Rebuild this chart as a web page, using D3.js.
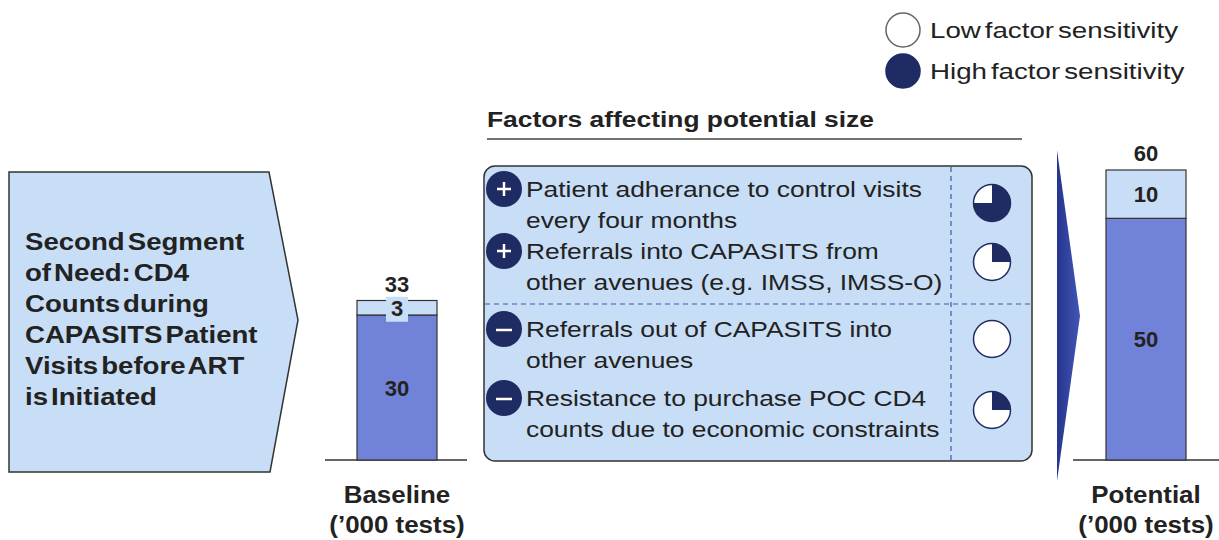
<!DOCTYPE html>
<meta charset="utf-8">
<style>
  body { margin: 0; background: #fff; }
  text { font-family: "Liberation Sans", Arial, sans-serif; fill: #222; }
  .bold { font-weight: bold; }
  .dash { stroke: #3d5aa8; stroke-width: 1.2; stroke-dasharray: 5,4; fill: none; }
</style>
<svg width="1219" height="540"></svg>
<script src="https://d3js.org/d3.v7.min.js"></script>
<script>

  // data
  var categories = ["Baseline", "Potential"];
  var baseValues = [30, 50];
  var addValues = [3, 10];
  var totals = [33, 60];
  var catLabels = [["Baseline", "(’000 tests)"], ["Potential", "(’000 tests)"]];

  var segmentLines = ["Second Segment", "of Need: CD4", "Counts during", "CAPASITS Patient", "Visits before ART", "is Initiated"];

  var factorSigns = ["+", "+", "-", "-"];
  var factorText = [
    ["Patient adherance to control visits", "every four months"],
    ["Referrals into CAPASITS from", "other avenues (e.g. IMSS, IMSS-O)"],
    ["Referrals out of CAPASITS into", "other avenues"],
    ["Resistance to purchase POC CD4", "counts due to economic constraints"]
  ];
  var sensitivity = [0.75, 0.25, 0, 0.25];
  var legendLabels = ["Low factor sensitivity", "High factor sensitivity"];
  var legendFill = [0, 1];

  var lightBlue = "#c8ddf6",
    barBlue = "#7183d8",
    navy = "#1f2b63";

  var svg = d3.select("svg");

  // the source picture is stretched sideways, so text gets a horizontal scale
  function stretch(sel, x0, s) {
    sel.attr("transform", "translate(" + x0 + ",0) scale(" + s + ",1) translate(" + (-x0) + ",0)");
    return sel;
  }

  // scales
  var y = d3.scaleLinear().domain([0, 60]).range([460, 170]);
  var x = d3.scaleOrdinal().domain(categories).range([397, 1146]);
  var barW = 80;

  // left pentagon
  svg.append("path")
    .attr("d", "M9,172 L269,172 L298,320 L270,472 L9,472 Z")
    .attr("fill", lightBlue)
    .attr("stroke", "#333")
    .attr("stroke-width", 1.5);

  var seg = svg.append("g");
  stretch(seg, 25, 1.15);
  seg.selectAll("text")
    .data(segmentLines)
    .enter().append("text")
    .attr("class", "bold")
    .attr("x", 25)
    .attr("y", function (d, i) { return 250 + i * 31; })
    .style("font-size", "24px")
    .style("word-spacing", "-4px")
    .text(function (d) { return d; });

  // baseline axes
  var axisSpans = [[325, 467], [1073, 1219]];
  svg.selectAll(".base")
    .data(axisSpans)
    .enter().append("line")
    .attr("x1", function (d) { return d[0]; })
    .attr("x2", function (d) { return d[1]; })
    .attr("y1", y(0)).attr("y2", y(0))
    .attr("stroke", "#333").attr("stroke-width", 1.5);

  // stacked bars
  var bars = svg.selectAll(".bar")
    .data(categories)
    .enter().append("g")
    .attr("class", "bar");

  bars.append("rect")
    .attr("x", function (d) { return x(d) - barW / 2; })
    .attr("width", barW)
    .attr("y", function (d, i) { return y(baseValues[i]); })
    .attr("height", function (d, i) { return y(0) - y(baseValues[i]); })
    .attr("fill", barBlue)
    .attr("stroke", "#333").attr("stroke-width", 1.2);

  bars.append("rect")
    .attr("x", function (d) { return x(d) - barW / 2; })
    .attr("width", barW)
    .attr("y", function (d, i) { return y(totals[i]); })
    .attr("height", function (d, i) { return y(baseValues[i]) - y(totals[i]); })
    .attr("fill", lightBlue)
    .attr("stroke", "#333").attr("stroke-width", 1.2);

  // base value labels
  bars.append("text")
    .attr("class", "bold")
    .attr("x", function (d) { return x(d); })
    .attr("y", function (d, i) { return (y(0) + y(baseValues[i])) / 2 + 8; })
    .attr("text-anchor", "middle")
    .style("font-size", "22px")
    .text(function (d, i) { return baseValues[i]; });

  // increment labels (with a small box behind)
  bars.each(function (d, i) {
    var g = d3.select(this);
    var cy = (y(baseValues[i]) + y(totals[i])) / 2;
    if (addValues[i] < 5) {
      g.append("rect")
        .attr("x", x(d) - 11).attr("y", cy - 11)
        .attr("width", 22).attr("height", 25)
        .attr("fill", lightBlue);
    }
    g.append("text")
      .attr("class", "bold")
      .attr("x", x(d))
      .attr("y", cy + 8)
      .attr("text-anchor", "middle")
      .style("font-size", "22px")
      .text(addValues[i]);
  });

  // totals
  bars.append("text")
    .attr("class", "bold")
    .attr("x", function (d) { return x(d); })
    .attr("y", function (d, i) { return y(totals[i]) - 9; })
    .attr("text-anchor", "middle")
    .style("font-size", "22px")
    .text(function (d, i) { return totals[i]; });

  // category labels
  bars.append("text")
    .attr("class", "bold")
    .attr("text-anchor", "middle")
    .style("font-size", "24px")
    .each(function (d) { stretch(d3.select(this), x(d), 1.08); })
    .selectAll("tspan")
    .data(function (d, i) { return catLabels[i].map(function (t) { return { t: t, c: d }; }); })
    .enter().append("tspan")
    .attr("x", function (d) { return x(d.c); })
    .attr("y", function (d, j) { return 503 + j * 30; })
    .text(function (d) { return d.t; });

  // factors title
  stretch(svg.append("text"), 487, 1.2)
    .attr("class", "bold")
    .attr("x", 487).attr("y", 127)
    .style("font-size", "22px")
    .text("Factors affecting potential size");
  svg.append("line")
    .attr("x1", 487).attr("x2", 1022)
    .attr("y1", 139).attr("y2", 139)
    .attr("stroke", "#444").attr("stroke-width", 1.3);

  // factors box
  svg.append("rect")
    .attr("x", 484).attr("y", 166)
    .attr("width", 548).attr("height", 295)
    .attr("rx", 11)
    .attr("fill", lightBlue)
    .attr("stroke", "#333").attr("stroke-width", 1.5);
  svg.append("line").attr("class", "dash")
    .attr("x1", 951).attr("x2", 951).attr("y1", 167).attr("y2", 460);
  svg.append("line").attr("class", "dash")
    .attr("x1", 485).attr("x2", 1031).attr("y1", 304).attr("y2", 304);

  var firstLine = [197, 259, 337, 406];
  var ballY = [203, 262, 339, 410];
  var lineGap = 31;

  var factors = svg.selectAll(".factor")
    .data(factorText)
    .enter().append("g")
    .attr("class", "factor");

  factors.append("circle")
    .attr("cx", 504)
    .attr("cy", function (d, i) { return firstLine[i] - 8; })
    .attr("r", 18)
    .attr("fill", navy);

  factors.append("path")
    .attr("d", function (d, i) {
      var cx = 504, cy = firstLine[i] - 8;
      if (factorSigns[i] === "+") {
        return "M" + (cx - 7) + "," + cy + "H" + (cx + 7) + "M" + cx + "," + (cy - 7) + "V" + (cy + 7);
      }
      return "M" + (cx - 8) + "," + (cy + 1) + "H" + (cx + 8);
    })
    .attr("stroke", "#fff").attr("stroke-width", 2.5);

  factors.append("text")
    .style("font-size", "22px")
    .each(function () { stretch(d3.select(this), 526, 1.2); })
    .selectAll("tspan")
    .data(function (d, i) { return d.map(function (t) { return { t: t, i: i }; }); })
    .enter().append("tspan")
    .attr("x", 526)
    .attr("y", function (d, j) { return firstLine[d.i] + j * lineGap; })
    .text(function (d) { return d.t; });

  // harvey balls
  var ballR = 18.5;
  var arc = d3.arc().innerRadius(0).outerRadius(ballR).startAngle(0);

  function harvey(g, cx, cy, frac) {
    g.append("circle")
      .attr("cx", cx).attr("cy", cy).attr("r", ballR)
      .attr("fill", "#fff").attr("stroke", navy).attr("stroke-width", 1.5);
    if (frac > 0) {
      g.append("path")
        .attr("transform", "translate(" + cx + "," + cy + ")")
        .attr("d", arc.endAngle(frac * 2 * Math.PI)())
        .attr("fill", navy);
    }
  }

  factors.each(function (d, i) {
    harvey(d3.select(this), 992, ballY[i], sensitivity[i]);
  });

  // legend
  var legend = svg.selectAll(".legend")
    .data(legendLabels)
    .enter().append("g")
    .attr("class", "legend");
  legend.append("circle")
    .attr("cx", 903)
    .attr("cy", function (d, i) { return 30 + i * 41; })
    .attr("r", 17)
    .attr("fill", function (d, i) { return legendFill[i] ? navy : "#fff"; })
    .attr("stroke", function (d, i) { return legendFill[i] ? navy : "#666"; })
    .attr("stroke-width", 1.5);
  legend.append("text")
    .attr("x", 930)
    .attr("y", function (d, i) { return 38 + i * 41; })
    .style("font-size", "22px")
    .style("word-spacing", "-3px")
    .each(function () { stretch(d3.select(this), 930, 1.26); })
    .text(function (d) { return d; });

  // transition arrow
  var grad = svg.append("defs").append("linearGradient")
    .attr("id", "arrowGrad").attr("x1", 0).attr("x2", 1).attr("y1", 0).attr("y2", 0);
  grad.append("stop").attr("offset", "0%").attr("stop-color", "#25358f");
  grad.append("stop").attr("offset", "100%").attr("stop-color", "#4355b5");
  svg.append("path")
    .attr("d", "M1057,150 L1080,316 L1057,481 Z")
    .attr("fill", "url(#arrowGrad)");

</script>
